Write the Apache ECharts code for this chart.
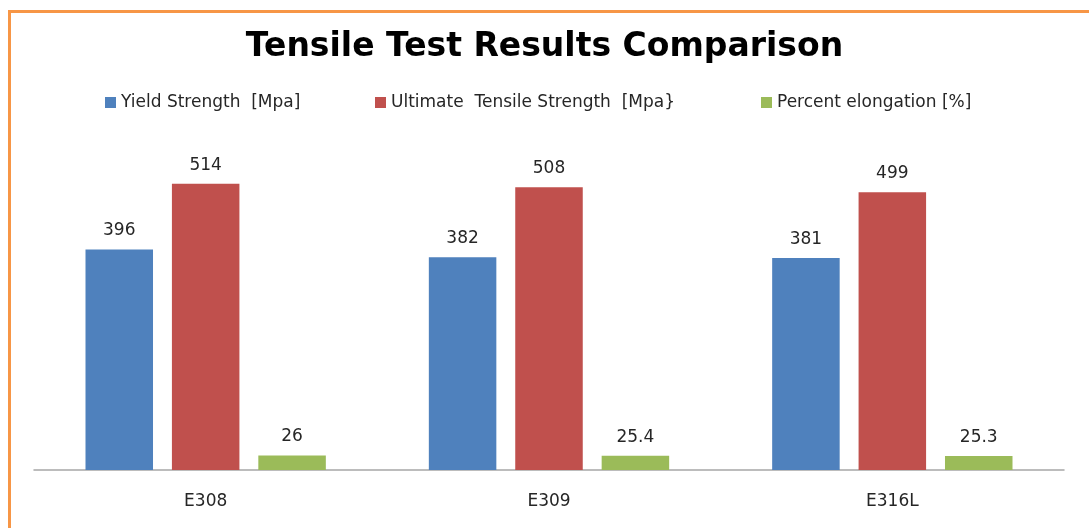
<!DOCTYPE html>
<html>
<head>
<meta charset="utf-8">
<script src="https://cdn.jsdelivr.net/npm/echarts@6/dist/echarts.min.js"></script>
<style>
  html, body { margin: 0; padding: 0; background: #ffffff; }
  #frame {
    position: absolute; left: 8px; top: 10px; width: 1081px; height: 518px;
    border-left: 3px solid #f79646; border-top: 3px solid #f79646;
  }
  #main { position: absolute; left: 0; top: 0; width: 1089px; height: 528px; }
</style>
</head>
<body>
<div id="frame"></div>
<div id="main"></div>
<script>
const categories = ['E308', 'E309', 'E316L'];
const seriesNames = ['Yield Strength  [Mpa]', 'Ultimate  Tensile Strength  [Mpa}', 'Percent elongation [%]'];
const yieldStrength = [396, 382, 381];
const ultimateStrength = [514, 508, 499];
const elongation = [26, 25.4, 25.3];

const chart = echarts.init(document.getElementById('main'));

const labelStyle = {
    show: true,
    position: 'top',
    distance: 10,
    color: '#262626',
    fontSize: 17,
    fontFamily: 'DejaVu Sans'
};

// one legend per item so each can sit where the original puts it
const legendLefts = [100, 370, 756];
const legends = seriesNames.map((name, i) => ({
    top: 89,
    left: legendLefts[i],
    itemWidth: 11,
    itemHeight: 11,
    icon: 'rect',
    textStyle: { fontSize: 17, color: '#262626', fontFamily: 'DejaVu Sans' },
    data: [name]
}));

const option = {
    backgroundColor: 'transparent',
    animation: false,
    title: {
        text: 'Tensile Test Results Comparison',
        left: 'center',
        top: 26,
        textStyle: { fontSize: 33, fontWeight: 'bold', color: '#000', fontFamily: 'DejaVu Sans' }
    },
    legend: legends,
    grid: { left: 34, right: 25, top: 136, bottom: 58 },
    xAxis: {
        type: 'category',
        data: categories,
        axisLine: { lineStyle: { color: '#a6a6a6', width: 1.5 } },
        axisTick: { show: false },
        axisLabel: { color: '#262626', fontSize: 17, margin: 23, fontFamily: 'DejaVu Sans' }
    },
    yAxis: {
        type: 'value',
        min: 0,
        max: 600,
        show: false
    },
    series: [
        {
            name: seriesNames[0],
            type: 'bar',
            data: yieldStrength,
            barGap: '28%',
            barCategoryGap: '30%',
            itemStyle: { color: '#4f81bd' },
            label: labelStyle
        },
        {
            name: seriesNames[1],
            type: 'bar',
            data: ultimateStrength,
            itemStyle: { color: '#c0504d' },
            label: labelStyle
        },
        {
            name: seriesNames[2],
            type: 'bar',
            data: elongation,
            itemStyle: { color: '#9bbb59' },
            label: labelStyle
        }
    ]
};

chart.setOption(option);
</script>
</body>
</html>
